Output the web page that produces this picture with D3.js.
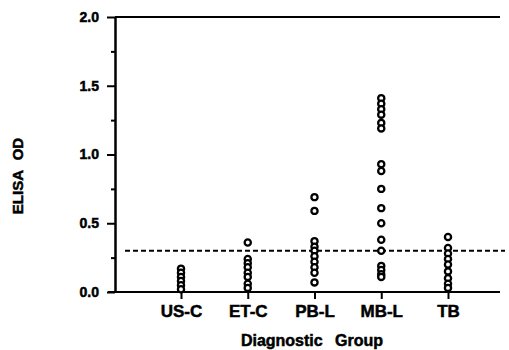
<!DOCTYPE html>
<html>
<head>
<meta charset="utf-8">
<script src="https://cdn.jsdelivr.net/npm/d3@7"></script>
<style>
  body { margin: 0; background: #fff; }
  svg { display: block; }
  text { font-family: "Liberation Sans", Arial, sans-serif; font-weight: bold; fill: #000; stroke: #000; stroke-width: 0.5px; }
</style>
</head>
<body>
<div id="chart"></div>
<script>
'use strict'

/*
 Data
*/
let groups = ["US-C", "ET-C", "PB-L", "MB-L", "TB"]
let usc = [0.17, 0.14, 0.11, 0.08, 0.05, 0.02]
let etc = [0.36, 0.24, 0.21, 0.18, 0.14, 0.11, 0.06, 0.03]
let pbl = [0.69, 0.59, 0.37, 0.33, 0.30, 0.26, 0.22, 0.18, 0.14, 0.07]
let mbl = [1.41, 1.37, 1.33, 1.29, 1.23, 1.19, 0.93, 0.88, 0.75, 0.61, 0.50, 0.38, 0.30, 0.19, 0.16, 0.13, 0.11]
let tb = [0.40, 0.32, 0.28, 0.24, 0.20, 0.15, 0.10, 0.06, 0.03]
let cutoff = 0.3
let majorTicks = [0, 0.5, 1.0, 1.5, 2.0]
let minorTicks = [0.25, 0.75, 1.25, 1.75]

let width = 509
let height = 350
let x0 = 115 // y axis position
let xEnd = 500

let xscale = d3.scalePoint()
  .domain(groups)
  .range([181, 448])

let yscale = d3.scaleLinear()
  .domain([0, 2])
  .range([292, 17])

let svg = d3.select("#chart").append("svg")
  .attr("width", width)
  .attr("height", height)

// top frame line
svg.append("line")
  .attr("x1", x0).attr("x2", xEnd)
  .attr("y1", yscale(2)).attr("y2", yscale(2))
  .attr("stroke", "#000").attr("stroke-width", 2)

// x axis
svg.append("line")
  .attr("x1", 108).attr("x2", xEnd)
  .attr("y1", yscale(0)).attr("y2", yscale(0))
  .attr("stroke", "#000").attr("stroke-width", 2)

let xAxis = svg.append("g")
  .attr("transform", "translate(0," + yscale(0) + ")")
  .call(d3.axisBottom(xscale).tickSize(7).tickPadding(6))
xAxis.select(".domain").remove()
xAxis.selectAll("line").attr("stroke-width", 2)
xAxis.selectAll("text").style("font-size", "17px")

// y axis, major and minor ticks
let yAxis = svg.append("g")
  .attr("transform", "translate(" + x0 + ",0)")
  .call(d3.axisLeft(yscale).tickValues(majorTicks).tickSize(8).tickSizeOuter(0).tickPadding(8).tickFormat(d3.format(".1f")))
yAxis.select(".domain").attr("stroke-width", 2.5)
yAxis.selectAll("line").attr("stroke-width", 2)
yAxis.selectAll("text").style("font-size", "14px")

let yMinor = svg.append("g")
  .attr("transform", "translate(" + x0 + ",0)")
  .call(d3.axisLeft(yscale).tickValues(minorTicks).tickSize(4).tickFormat(""))
yMinor.select(".domain").remove()
yMinor.selectAll("line").attr("stroke-width", 2)

svg.selectAll(".tick text").attr("font-family", null).attr("font-size", null)

// cutoff line
svg.append("line")
  .attr("x1", 125).attr("x2", 505)
  .attr("y1", yscale(cutoff)).attr("y2", yscale(cutoff))
  .attr("stroke", "#000")
  .attr("stroke-width", 2)
  .attr("stroke-dasharray", "5,3")

// points
let series = [usc, etc, pbl, mbl, tb]
let points = []
series.forEach(function (vals, i) {
  vals.forEach(function (v) { points.push({ group: groups[i], value: v }) })
})

svg.append("g")
  .selectAll("circle")
  .data(points)
  .enter()
  .append("circle")
  .attr("cx", function (d) { return xscale(d.group) })
  .attr("cy", function (d) { return yscale(d.value) })
  .attr("r", 3.1)
  .attr("fill", "#fff")
  .attr("stroke", "#000")
  .attr("stroke-width", 2.3)

// axis titles
svg.append("text")
  .attr("x", 312)
  .attr("y", 346)
  .attr("text-anchor", "middle")
  .style("font-size", "16px")
  .style("word-spacing", "8px")
  .text("Diagnostic Group")

svg.append("text")
  .attr("transform", "translate(23,176) rotate(-90)")
  .attr("text-anchor", "middle")
  .style("font-size", "15px")
  .style("word-spacing", "6px")
  .text("ELISA OD")
</script>
</body>
</html>
